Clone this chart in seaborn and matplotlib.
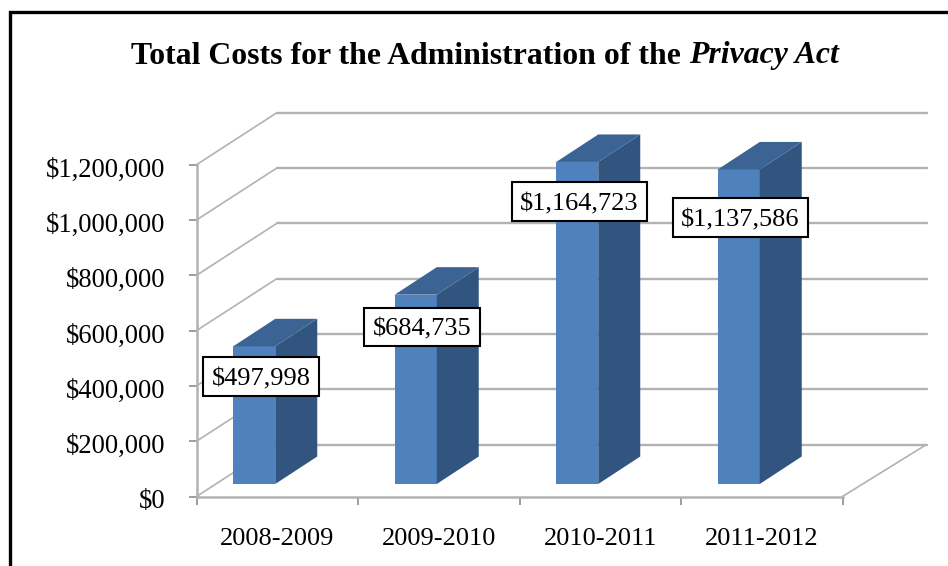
import matplotlib
matplotlib.use("Agg")
import matplotlib.pyplot as plt
import pandas as pd
import seaborn as sns
from matplotlib.patches import Polygon, Rectangle
from matplotlib.path import Path
from matplotlib.transforms import ScaledTranslation

periods = ["2008-2009", "2009-2010", "2010-2011", "2011-2012"]
costs = [497998, 684735, 1164723, 1137586]
value_ticks = [0, 200000, 400000, 600000, 800000, 1000000, 1200000]

W, H = 948, 566
SERIF = "Liberation Serif"
GRID = "#b2b2b2"
FRONT, SIDE, TOP = "#4f81bd", "#32557f", "#3b6494"

# Plot area in pixels, and the scale that goes with it
LEFT, RIGHT, BOTTOM, CEIL = 196.5, 927.0, 496.5, 111.0
CAT_PX = 161.5
VAL_PER_PX = 200000 / 55.3


def px_x(p):
    return p / CAT_PX


def px_y(p):
    return p * VAL_PER_PX


# Oblique projection of the chart box and of each column
WALL_DX, WALL_DY = px_x(80.4), px_y(52)
WALL_END_DX = px_x(84)
BAR_DX, BAR_DY = px_x(42), px_y(27.5)
BAR_SHIFT, BAR_LIFT = px_x(23), px_y(12.5)

# Hand placement of the value labels, in pixels from the column's top centre
label_nudge = [(7, -33), (6, -35), (2, -42), (1.5, -51)]


def label_box(x0, y0, width, height, mutation_size):
    """Square box around a label, raised a little so the digits sit centred in it."""
    pad = 0.32 * mutation_size
    lift = 0.1 * mutation_size
    xa, xb = x0 - pad, x0 + width + pad
    ya, yb = y0 - pad + lift, y0 + height + pad + lift
    return Path([(xa, ya), (xb, ya), (xb, yb), (xa, yb), (xa, ya)], closed=True)


sns.set_theme(style="white", rc={"xtick.bottom": True, "ytick.left": True})
plt.rcParams["font.family"] = [SERIF, "DejaVu Sans"]

fig = plt.figure(figsize=(W / 100, H / 100), dpi=100, facecolor="white")
ax = fig.add_axes([LEFT / W, 1 - BOTTOM / H, (RIGHT - LEFT) / W, (BOTTOM - CEIL) / H])
ax.patch.set_alpha(0)

df = pd.DataFrame({"period": periods, "cost": costs})
sns.barplot(data=df, x="period", y="cost", color=FRONT, saturation=1, width=42 / CAT_PX,
            ax=ax, zorder=3, linewidth=0)

x_min = -0.5
ax.set_xlim(x_min, x_min + (RIGHT - LEFT) / CAT_PX)
ax.set_ylim(0, (BOTTOM - CEIL) * VAL_PER_PX)
ax.set_xlabel("")
ax.set_ylabel("")

# Wall and floor lines behind the columns
x_end = x_min + len(periods)
for v in value_ticks:
    ax.plot([x_min, x_min + WALL_DX], [v, v + WALL_DY],
            color=GRID, lw=1.2, zorder=1, clip_on=False)
    ax.plot([x_min + WALL_DX, x_end + WALL_END_DX], [v + WALL_DY, v + WALL_DY],
            color=GRID, lw=1.7, zorder=1, clip_on=False)
ax.plot([x_end, x_end + WALL_END_DX], [0, WALL_DY], color=GRID, lw=1.2, zorder=1, clip_on=False)

# Push the columns onto the floor and add their top and side faces
for patch, cost in zip(ax.patches, costs):
    patch.set_x(patch.get_x() - BAR_SHIFT)
    patch.set_y(BAR_LIFT)
    x0, w = patch.get_x(), patch.get_width()
    x1 = x0 + w
    y0, y1 = BAR_LIFT, BAR_LIFT + cost
    ax.add_patch(Polygon([(x1, y0), (x1 + BAR_DX, y0 + BAR_DY), (x1 + BAR_DX, y1 + BAR_DY), (x1, y1)],
                         closed=True, fc=SIDE, ec="none", zorder=3, clip_on=False))
    ax.add_patch(Polygon([(x0, y1), (x1, y1), (x1 + BAR_DX, y1 + BAR_DY), (x0 + BAR_DX, y1 + BAR_DY)],
                         closed=True, fc=TOP, ec="none", zorder=3, clip_on=False))
bar_patches = [p for p in ax.patches if not isinstance(p, Polygon)]

# Axes
for name in ("top", "right"):
    ax.spines[name].set_visible(False)
for name in ("left", "bottom"):
    ax.spines[name].set_color(GRID)
    ax.spines[name].set_linewidth(1.8)
    ax.spines[name].set_zorder(2)
ax.spines["left"].set_bounds(0, 1200000)
ax.spines["bottom"].set_bounds(x_min, x_end)

ax.set_yticks(value_ticks, [f"${v:,}" for v in value_ticks])
ax.tick_params(axis="y", left=True, length=6, width=1.2, color="#8c8c8c", pad=16.3,
               labelsize=19.2, labelcolor="black")
ax.set_xticks(range(len(periods)), periods)
ax.set_xticks([x_min + i for i in range(len(periods) + 1)], minor=True)
ax.tick_params(axis="x", which="major", bottom=False, pad=16.7, labelsize=19, labelcolor="black")
ax.tick_params(axis="x", which="minor", bottom=True, length=6, width=1.2, color="#8c8c8c")

# Value labels on the axis sit slightly below their ticks
drop = ScaledTranslation(0, -1.8 / 72, fig.dpi_scale_trans)
for label in ax.get_yticklabels():
    label.set_transform(label.get_transform() + drop)

# Boxed value labels
for patch, cost, (nx, ny) in zip(bar_patches, costs, label_nudge):
    ax.annotate(f"${cost:,}", xy=(patch.get_x() + patch.get_width() / 2, BAR_LIFT + cost),
                xytext=(nx * 0.72, ny * 0.72), textcoords="offset points",
                ha="center", va="center", fontsize=19, color="black", zorder=6,
                bbox=dict(boxstyle=label_box, fc="white", ec="black", lw=1.5))

# Title, with the name of the act set in italics
head = fig.text(131 / W, 1 - 63.5 / H, "Total Costs for the Administration of the ",
                fontsize=22.9, fontweight="bold", color="black", ha="left", va="baseline")
ax.annotate("Privacy Act", xy=(1, 0), xycoords=head, xytext=(0, 0), textcoords="offset points",
            fontsize=22.9, fontweight="bold", fontstyle="italic", color="black",
            ha="left", va="bottom", annotation_clip=False)

# Frame around the whole graphic, running off the right and bottom edges
fig.add_artist(Rectangle((10 / W, -0.2), 1.2, 1.2 - 11.5 / H,
                         transform=fig.transFigure, fc="none", ec="black", lw=2.4))

fig.savefig("out.png", dpi=100, facecolor="white")
